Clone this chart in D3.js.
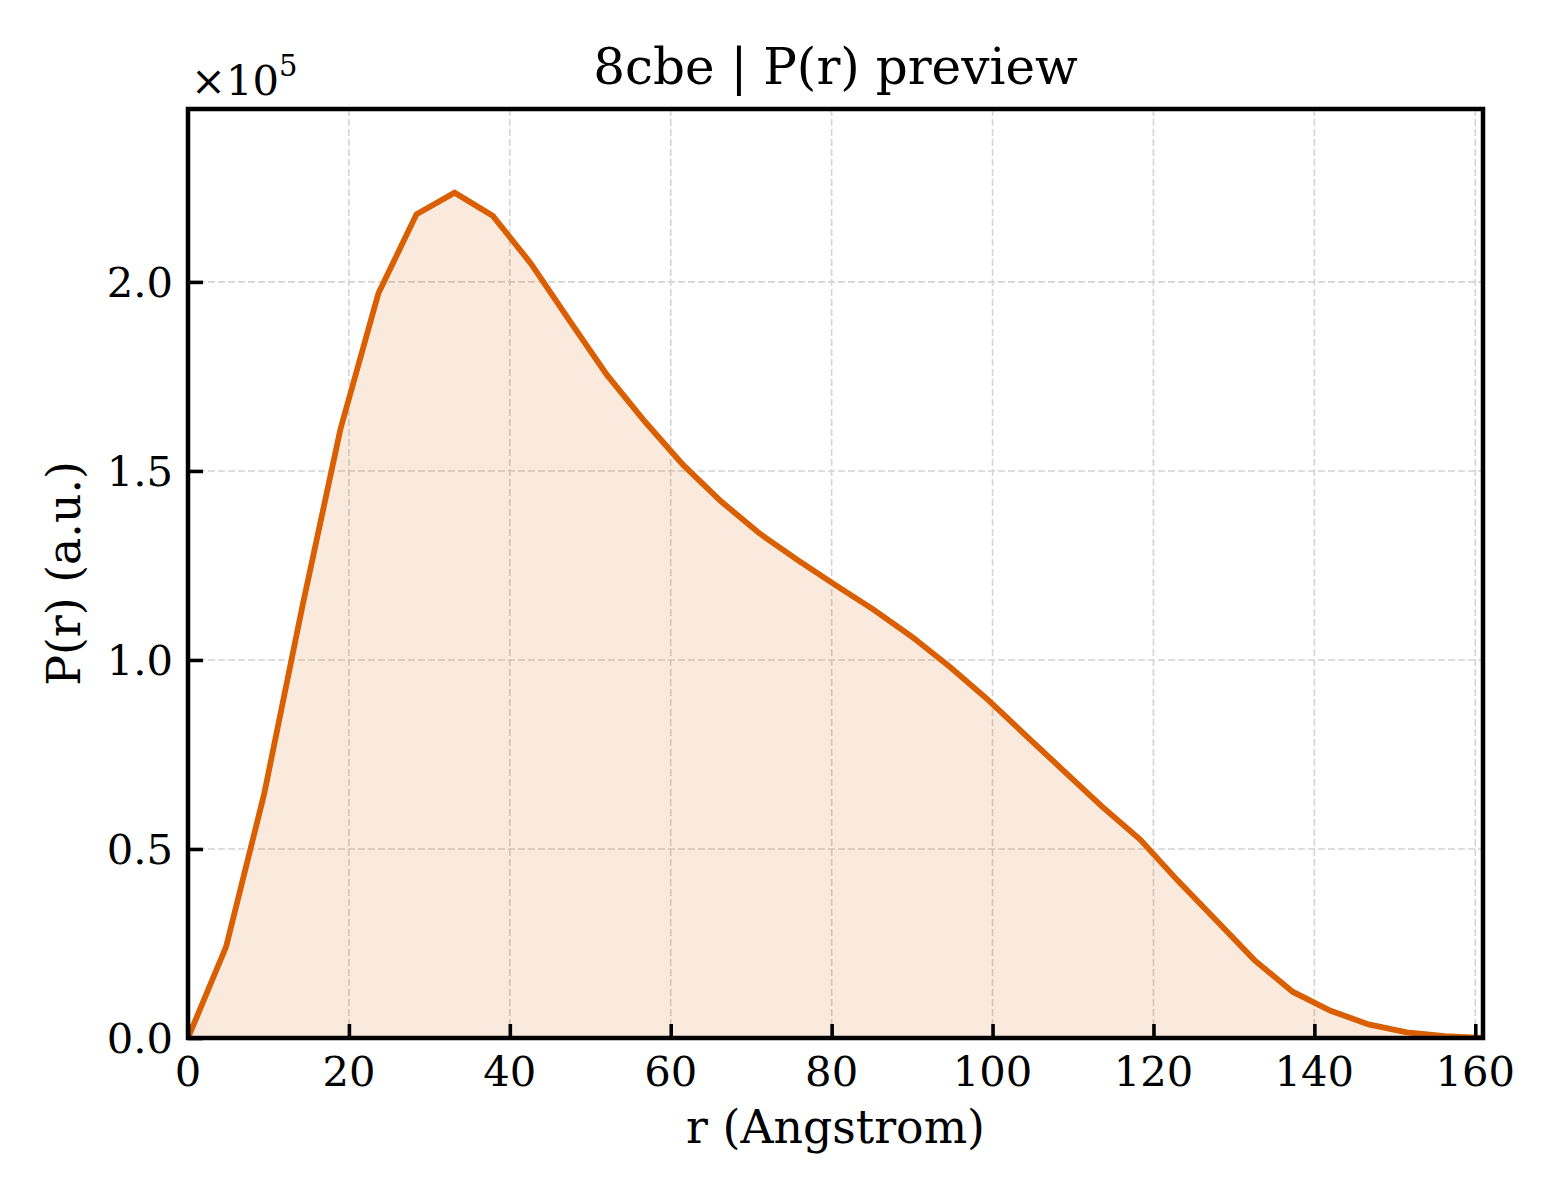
<!DOCTYPE html>
<html>
<head>
<meta charset="utf-8">
<script src="https://cdn.jsdelivr.net/npm/d3@7"></script>
<style>
  html, body { margin: 0; padding: 0; background: #ffffff; }
  svg { display: block; }
  text { font-family: "DejaVu Serif", "Liberation Serif", serif; fill: #000; }
</style>
</head>
<body>
<svg id="chart" width="1560" height="1200"></svg>
<script>
// ---- data ----
const rValues = [0, 4.73, 9.47, 14.2, 18.94, 23.67, 28.4, 33.14, 37.87, 42.61,
  47.34, 52.07, 56.81, 61.54, 66.28, 71.01, 75.74, 80.48, 85.21, 89.95,
  94.68, 99.41, 104.15, 108.88, 113.62, 118.35, 123.08, 127.82, 132.55, 137.29,
  142.02, 146.75, 151.49, 156.22, 160.96];
const prValues = [0, 24100, 64600, 114000, 161000, 197000, 217900, 223600, 217500, 204900,
  190000, 175400, 163000, 151600, 141900, 133500, 126500, 119800, 113300, 106200,
  98200, 89500, 80000, 70600, 61200, 52500, 41500, 31100, 20600, 12250,
  7200, 3600, 1500, 500, 0];
const xTickValues = [0, 20, 40, 60, 80, 100, 120, 140, 160];
const yTickValues = [0, 50000, 100000, 150000, 200000];
const yTickLabels = ["0.0", "0.5", "1.0", "1.5", "2.0"];
const titleText = "8cbe | P(r) preview";
const xLabelText = "r (Angstrom)";
const yLabelText = "P(r) (a.u.)";

// ---- layout ----
const L = 188, R = 1483, T = 109, B = 1038;
const lineColor = "#d95f02";

const svg = d3.select("#chart");
svg.append("rect").attr("width", 1560).attr("height", 1200).attr("fill", "#fff");

const x = d3.scaleLinear().domain([0, d3.max(rValues)]).range([L, R]);
const y = d3.scaleLinear().domain([0, d3.max(prValues) * 1.099]).range([B, T]);

const data = rValues.map((r, i) => ({ r, p: prValues[i] }));

// grid
const grid = svg.append("g");
grid.selectAll("line.gx").data(xTickValues).join("line")
  .attr("x1", d => x(d)).attr("x2", d => x(d)).attr("y1", T).attr("y2", B)
  .attr("stroke", "#d4d4d4").attr("stroke-width", 1.6).attr("stroke-dasharray", "7,3");
grid.selectAll("line.gy").data(yTickValues).join("line")
  .attr("x1", L).attr("x2", R).attr("y1", d => y(d)).attr("y2", d => y(d))
  .attr("stroke", "#d4d4d4").attr("stroke-width", 1.6).attr("stroke-dasharray", "7,3");

// clip
svg.append("clipPath").attr("id", "clip").append("rect")
  .attr("x", L).attr("y", T).attr("width", R - L).attr("height", B - T);

const plot = svg.append("g").attr("clip-path", "url(#clip)");
plot.append("path").datum(data)
  .attr("d", d3.area().x(d => x(d.r)).y0(y(0)).y1(d => y(d.p)))
  .attr("fill", lineColor).attr("fill-opacity", 0.13);
plot.append("path").datum(data)
  .attr("d", d3.line().x(d => x(d.r)).y(d => y(d.p)))
  .attr("fill", "none").attr("stroke", lineColor).attr("stroke-width", 5.8)
  .attr("stroke-linejoin", "miter").attr("stroke-linecap", "butt");

// axes (ticks inward)
const xAxis = d3.axisBottom(x).tickValues(xTickValues).tickSize(-14).tickPadding(0).tickFormat("");
const gx = svg.append("g").attr("transform", `translate(0,${B})`).call(xAxis);
gx.select(".domain").remove();
gx.selectAll(".tick line").attr("stroke", "#000").attr("stroke-width", 3.6);

const yAxis = d3.axisLeft(y).tickValues(yTickValues).tickSize(-15).tickFormat("");
const gy = svg.append("g").attr("transform", `translate(${L},0)`).call(yAxis);
gy.select(".domain").remove();
gy.selectAll(".tick line").attr("stroke", "#000").attr("stroke-width", 3.6);

// tick labels
svg.append("g").selectAll("text").data(xTickValues).join("text")
  .attr("x", d => x(d)).attr("y", 1086)
  .attr("text-anchor", "middle").attr("font-size", 41.7)
  .text(d => d);
svg.append("g").selectAll("text").data(yTickValues).join("text")
  .attr("x", 173).attr("y", d => y(d)).attr("dy", "0.36em")
  .attr("text-anchor", "end").attr("font-size", 41.7)
  .text((d, i) => yTickLabels[i]);

// frame
svg.append("rect").attr("x", L).attr("y", T).attr("width", R - L).attr("height", B - T)
  .attr("fill", "none").attr("stroke", "#000").attr("stroke-width", 4.5);

// offset text
const off = svg.append("text").attr("x", 191).attr("y", 95).attr("font-size", 41.7);
off.append("tspan").text("×10");
off.append("tspan").attr("font-size", 29).attr("dy", -19).text("5");

// title & labels
svg.append("text").attr("x", (L + R) / 2).attr("y", 84).attr("text-anchor", "middle")
  .attr("font-size", 50).text(titleText);
svg.append("text").attr("x", (L + R) / 2).attr("y", 1143).attr("text-anchor", "middle")
  .attr("font-size", 45.8).text(xLabelText);
svg.append("text").attr("transform", `translate(80,${(T + B) / 2}) rotate(-90)`)
  .attr("text-anchor", "middle").attr("font-size", 45.8).text(yLabelText);
</script>
</body>
</html>
